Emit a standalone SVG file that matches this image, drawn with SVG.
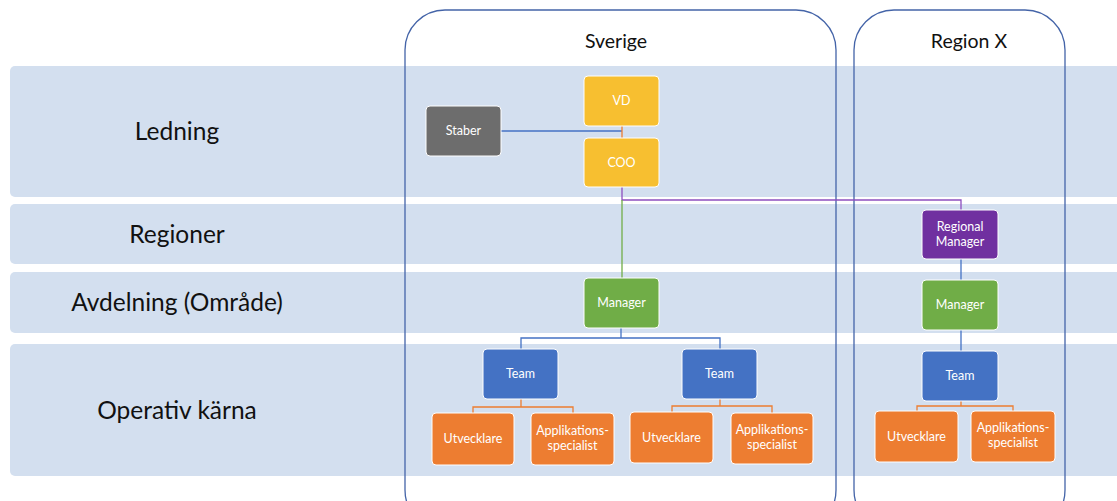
<svg xmlns="http://www.w3.org/2000/svg" width="1117" height="501" viewBox="0 0 1117 501">
<style>
.band{fill:#d3dfef}
.cont{fill:none;stroke:#4464a8;stroke-width:1.3}
.node rect{stroke:#ffffff;stroke-width:1;}
.lbl{font-family:Lato,"Open Sans","Liberation Sans",sans-serif;font-size:24.5px;fill:#111;text-anchor:middle}
.title{font-family:Lato,"Open Sans","Liberation Sans",sans-serif;font-size:19.5px;fill:#111;text-anchor:middle}
.nt{font-family:Lato,"Open Sans","Liberation Sans",sans-serif;font-size:12.5px;fill:#fff;text-anchor:middle}
.yellow{fill:#f7bf30}
.gray{fill:#6d6d6d}
.purple{fill:#7030a0}
.green{fill:#70ad47}
.blue{fill:#4472c4}
.orange{fill:#ed7d31}
.c{fill:none;stroke-width:1.3}
</style>
<rect width="1117" height="501" fill="#ffffff"/>
<g id="bands">
<rect class="band" x="10" y="66" width="1120" height="131" rx="5"/>
<rect class="band" x="10" y="204" width="1120" height="60" rx="5"/>
<rect class="band" x="10" y="272" width="1120" height="61" rx="5"/>
<rect class="band" x="10" y="344" width="1120" height="132" rx="5"/>
<text class="lbl" x="177" y="140">Ledning</text>
<text class="lbl" x="177" y="243">Regioner</text>
<text class="lbl" x="177" y="311">Avdelning (Område)</text>
<text class="lbl" x="177" y="419">Operativ kärna</text>
</g>
<g id="sverige">
<rect class="cont" x="405" y="10" width="431" height="520" rx="40"/>
<text class="title" x="616" y="48">Sverige</text>
</g>
<g id="regionx">
<rect class="cont" x="854" y="10" width="211" height="520" rx="40"/>
<text class="title" x="969" y="48">Region X</text>
</g>
<g id="connectors">
<line class="c" x1="501" y1="131" x2="622" y2="131" stroke="#4472c4"/>
<line class="c" x1="622" y1="126" x2="622" y2="138" stroke="#ed7d31"/>
<polyline class="c" points="622,187 622,200 961,200 961,210" stroke="#8e4fbf"/>
<line class="c" x1="622" y1="200" x2="622" y2="278" stroke="#70ad47"/>
<line class="c" x1="961" y1="259" x2="961" y2="280" stroke="#4472c4"/>
<line class="c" x1="961" y1="330" x2="961" y2="351" stroke="#4472c4"/>
<polyline class="c" points="621,328 621,338" stroke="#4472c4"/>
<polyline class="c" points="521,349 521,338 720,338 720,349" stroke="#4472c4"/>
<polyline class="c" points="521,399 521,407" stroke="#ed7d31"/>
<polyline class="c" points="473,413 473,407 573,407 573,413" stroke="#ed7d31"/>
<polyline class="c" points="720,399 720,406" stroke="#ed7d31"/>
<polyline class="c" points="672,412 672,406 772,406 772,413" stroke="#ed7d31"/>
<polyline class="c" points="961,401 961,406" stroke="#ed7d31"/>
<polyline class="c" points="917,411 917,406 1013,406 1013,411" stroke="#ed7d31"/>
</g>
<g id="vd" class="node"><rect class="yellow" x="584" y="76" width="75" height="50" rx="4"/><text class="nt" x="621.5" y="105">VD</text></g>
<g id="coo" class="node"><rect class="yellow" x="584" y="138" width="75" height="49" rx="4"/><text class="nt" x="621.5" y="167">COO</text></g>
<g id="staber" class="node"><rect class="gray" x="426" y="106" width="75" height="50" rx="4"/><text class="nt" x="463.5" y="135">Staber</text></g>
<g id="regional-manager" class="node"><rect class="purple" x="922" y="210" width="76" height="49" rx="4"/><text class="nt" x="960" y="231">Regional</text><text class="nt" x="960" y="246">Manager</text></g>
<g id="manager-se" class="node"><rect class="green" x="584" y="278" width="75" height="50" rx="4"/><text class="nt" x="621.5" y="307">Manager</text></g>
<g id="manager-rx" class="node"><rect class="green" x="922" y="280" width="76" height="50" rx="4"/><text class="nt" x="960" y="309">Manager</text></g>
<g id="team1" class="node"><rect class="blue" x="483" y="349" width="75" height="50" rx="4"/><text class="nt" x="520.5" y="378">Team</text></g>
<g id="team2" class="node"><rect class="blue" x="682" y="349" width="75" height="50" rx="4"/><text class="nt" x="719.5" y="378">Team</text></g>
<g id="team3" class="node"><rect class="blue" x="922" y="351" width="76" height="50" rx="4"/><text class="nt" x="960" y="380">Team</text></g>
<g id="utv1" class="node"><rect class="orange" x="432" y="413" width="82" height="52" rx="4"/><text class="nt" x="473" y="443">Utvecklare</text></g>
<g id="app1" class="node"><rect class="orange" x="531" y="413" width="83" height="52" rx="4"/><text class="nt" x="572.5" y="435">Applikations-</text><text class="nt" x="572.5" y="450">specialist</text></g>
<g id="utv2" class="node"><rect class="orange" x="630" y="412" width="83" height="51" rx="4"/><text class="nt" x="671.5" y="442">Utvecklare</text></g>
<g id="app2" class="node"><rect class="orange" x="731" y="413" width="82" height="51" rx="4"/><text class="nt" x="772" y="434">Applikations-</text><text class="nt" x="772" y="449">specialist</text></g>
<g id="utv3" class="node"><rect class="orange" x="875" y="411" width="83" height="51" rx="4"/><text class="nt" x="916.5" y="441">Utvecklare</text></g>
<g id="app3" class="node"><rect class="orange" x="971" y="411" width="84" height="51" rx="4"/><text class="nt" x="1013" y="432">Applikations-</text><text class="nt" x="1013" y="447">specialist</text></g>
</svg>
